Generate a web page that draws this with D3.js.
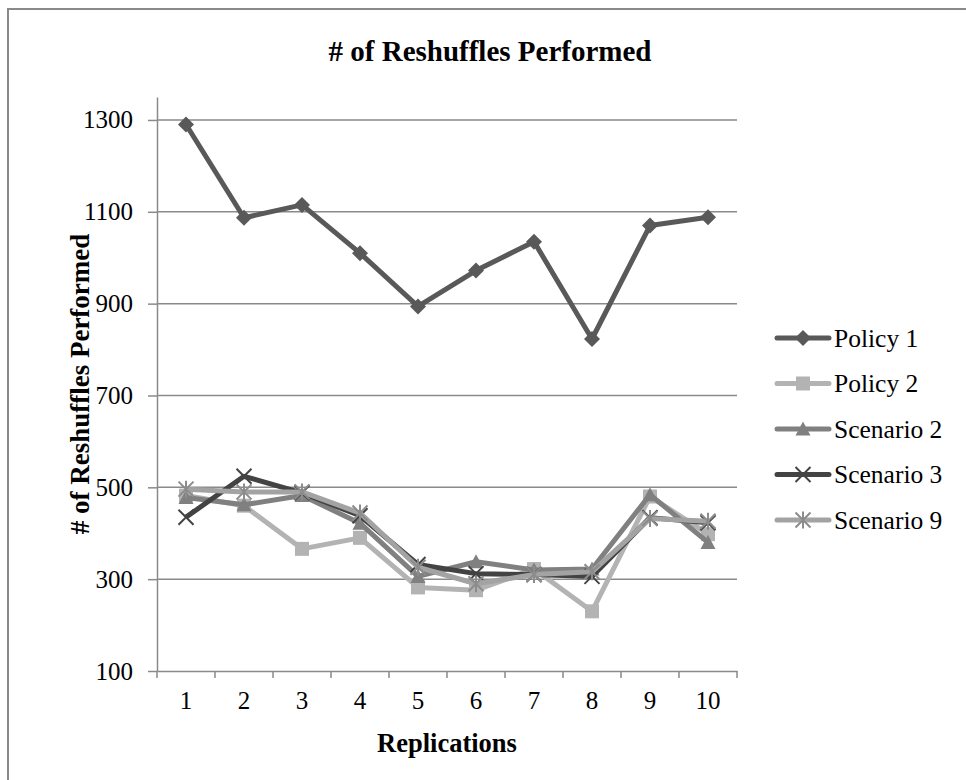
<!DOCTYPE html>
<html>
<head>
<meta charset="utf-8">
<script src="https://cdn.jsdelivr.net/npm/d3@7"></script>
<style>
  body { margin: 0; background: #fff; }
  text { font-family: "Liberation Serif", "Times New Roman", serif; fill: #000; }
</style>
</head>
<body>
<div id="chart"></div>
<script>
// data
var replications = ["1", "2", "3", "4", "5", "6", "7", "8", "9", "10"];
var policy1   = [1290, 1087, 1115, 1010, 894, 972, 1035, 823, 1070, 1088];
var policy2   = [482, 460, 366, 390, 282, 276, 322, 230, 480, 398];
var scenario2 = [478, 462, 482, 422, 306, 338, 320, 322, 484, 380];
var scenario3 = [435, 524, 488, 438, 332, 312, 310, 306, 434, 423];
var scenario9 = [496, 490, 490, 444, 326, 290, 310, 316, 432, 426];
var yTicks = [100, 300, 500, 700, 900, 1100, 1300];

var seriesNames = ["Policy 1", "Policy 2", "Scenario 2", "Scenario 3", "Scenario 9"];
var seriesValues = [policy1, policy2, scenario2, scenario3, scenario9];
var lineColors = ["#595959", "#b3b3b3", "#808080", "#434343", "#a3a3a3"];
var markColors = ["#595959", "#b3b3b3", "#808080", "#434343", "#8c8c8c"];
var markTypes = ["diamond", "square", "triangle", "x", "star"];

var W = 966, H = 780;
var margin = { top: 97, right: 229, bottom: 109, left: 157 },
	width = W - margin.left - margin.right,
	height = H - margin.top - margin.bottom;

var root = d3.select("#chart")
	.append("svg")
	.attr("width", W)
	.attr("height", H);

// chart area border
root.append("rect")
	.attr("x", 8).attr("y", 9)
	.attr("width", W + 10).attr("height", H + 10)
	.attr("fill", "none")
	.attr("stroke", "#8a8a8a")
	.attr("stroke-width", 2);

var svg = root.append("g")
	.attr("transform", "translate(" + margin.left + "," + margin.top + ")");

var x = d3.scaleBand()
	.domain(replications)
	.range([0, width]);

var y = d3.scaleLinear()
	.domain([100, 1350])
	.range([height, 0]);

// gridlines
svg.append("g")
	.selectAll("line")
	.data(yTicks.slice(1))
	.enter()
	.append("line")
	.attr("x1", 0)
	.attr("x2", width)
	.attr("y1", function (d) { return y(d); })
	.attr("y2", function (d) { return y(d); })
	.attr("stroke", "#8a8a8a")
	.attr("stroke-width", 1.5);

// y axis
var yAxis = svg.append("g")
	.call(d3.axisLeft(y).tickValues(yTicks).tickFormat(d3.format("d"))
		.tickSize(9).tickPadding(15).tickSizeOuter(0));
yAxis.select(".domain").attr("stroke", "#8a8a8a").attr("stroke-width", 1.5);
yAxis.selectAll(".tick line").attr("stroke", "#8a8a8a").attr("stroke-width", 1.5);
yAxis.selectAll("text")
	.style("font-family", "Liberation Serif")
	.style("font-size", "25px")
	.attr("fill", "#000");

// x axis: ticks on the category boundaries
var xAxis = svg.append("g")
	.attr("transform", "translate(0," + height + ")")
	.call(d3.axisBottom(x).tickSize(0).tickPadding(20));
xAxis.select(".domain").attr("stroke", "#8a8a8a").attr("stroke-width", 1.5);
xAxis.selectAll("text")
	.style("font-family", "Liberation Serif")
	.style("font-size", "25px")
	.attr("fill", "#000");
xAxis.selectAll("line.bound")
	.data(d3.range(replications.length + 1))
	.enter()
	.append("line")
	.attr("class", "bound")
	.attr("x1", function (i) { return i * x.step(); })
	.attr("x2", function (i) { return i * x.step(); })
	.attr("y1", 0)
	.attr("y2", 7)
	.attr("stroke", "#8a8a8a")
	.attr("stroke-width", 1.5);

function cx(i) { return x(replications[i]) + x.bandwidth() / 2; }

function drawMarker(g, type, color, size) {
	var s = size / 2;
	if (type === "diamond") {
		g.append("path").attr("d", "M0," + (-s) + "L" + s + ",0L0," + s + "L" + (-s) + ",0Z").attr("fill", color);
	} else if (type === "square") {
		g.append("rect").attr("x", -s).attr("y", -s).attr("width", size).attr("height", size).attr("fill", color);
	} else if (type === "triangle") {
		g.append("path").attr("d", "M0," + (-s - 1) + "L" + (s + 1) + "," + s + "L" + (-s - 1) + "," + s + "Z").attr("fill", color);
	} else if (type === "x") {
		g.append("path").attr("d", "M" + (-s) + "," + (-s) + "L" + s + "," + s + "M" + s + "," + (-s) + "L" + (-s) + "," + s)
			.attr("stroke", color).attr("stroke-width", 2).attr("fill", "none");
	} else if (type === "star") {
		g.append("path").attr("d", "M" + (-s) + "," + (-s) + "L" + s + "," + s + "M" + s + "," + (-s) + "L" + (-s) + "," + s + "M0," + (-s - 1) + "L0," + (s + 1))
			.attr("stroke", color).attr("stroke-width", 2).attr("fill", "none");
	}
}

var markSizes = { diamond: 16, square: 14, triangle: 13, x: 15, star: 15 };

var line = d3.line()
	.x(function (d, i) { return cx(i); })
	.y(function (d) { return y(d); });

seriesValues.forEach(function (vals, k) {
	var g = svg.append("g");
	g.append("path")
		.datum(vals)
		.attr("d", line)
		.attr("fill", "none")
		.attr("stroke", lineColors[k])
		.attr("stroke-width", 5)
		.attr("stroke-linejoin", "round");
	vals.forEach(function (v, i) {
		var m = g.append("g").attr("transform", "translate(" + cx(i) + "," + y(v) + ")");
		drawMarker(m, markTypes[k], markColors[k], markSizes[markTypes[k]]);
	});
});

// legend
var legend = root.append("g").attr("transform", "translate(775,338)");
seriesNames.forEach(function (name, k) {
	var row = legend.append("g").attr("transform", "translate(0," + (k * 45.5) + ")");
	row.append("line")
		.attr("x1", 2).attr("x2", 54).attr("y1", 0).attr("y2", 0)
		.attr("stroke", lineColors[k])
		.attr("stroke-width", 5)
		.attr("stroke-linecap", "round");
	var m = row.append("g").attr("transform", "translate(28,0)");
	drawMarker(m, markTypes[k], markColors[k], markSizes[markTypes[k]]);
	row.append("text")
		.attr("x", 59)
		.attr("y", 0)
		.attr("dy", "0.35em")
		.style("font-size", "25.5px")
		.text(name);
});

// titles
root.append("text")
	.attr("x", 490)
	.attr("y", 61)
	.attr("text-anchor", "middle")
	.style("font-size", "29px")
	.style("font-weight", "bold")
	.text("# of Reshuffles Performed");

root.append("text")
	.attr("transform", "translate(89," + (margin.top + height / 2) + ") rotate(-90)")
	.attr("text-anchor", "middle")
	.style("font-size", "27px")
	.style("font-weight", "bold")
	.text("# of Reshuffles Performed");

root.append("text")
	.attr("x", margin.left + width / 2)
	.attr("y", 752)
	.attr("text-anchor", "middle")
	.style("font-size", "26.5px")
	.style("font-weight", "bold")
	.text("Replications");
</script>
</body>
</html>
